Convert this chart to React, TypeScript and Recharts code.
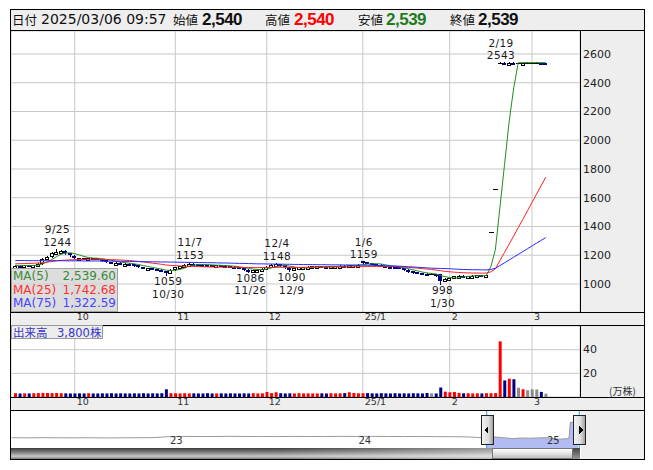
import React from "react";
import {
  Area,
  Bar,
  BarChart,
  CartesianGrid,
  Cell,
  ComposedChart,
  Line,
  ReferenceDot,
  ReferenceLine,
  XAxis,
  YAxis,
} from "recharts";

// daily bars 2024/09/10 - 2025/03/06
const dates = [
  "9/10", "9/11", "9/12", "9/13", "9/17", "9/18", "9/19", "9/20", "9/24", "9/25", "9/26", "9/27", "9/30",
  "10/1", "10/2", "10/3", "10/4", "10/7", "10/8", "10/9", "10/10", "10/11", "10/15", "10/16", "10/17", "10/18",
  "10/21", "10/22", "10/23", "10/24", "10/25", "10/28", "10/29", "10/30", "10/31",
  "11/1", "11/5", "11/6", "11/7", "11/8", "11/11", "11/12", "11/13", "11/14", "11/15", "11/18", "11/19",
  "11/20", "11/21", "11/22", "11/25", "11/26", "11/27", "11/28", "11/29",
  "12/2", "12/3", "12/4", "12/5", "12/6", "12/9", "12/10", "12/11", "12/12", "12/13", "12/16", "12/17",
  "12/18", "12/19", "12/20", "12/23", "12/24", "12/25", "12/26", "12/27", "12/30",
  "1/6", "1/7", "1/8", "1/9", "1/10", "1/14", "1/15", "1/16", "1/17", "1/20", "1/21", "1/22", "1/23",
  "1/24", "1/27", "1/28", "1/29", "1/30", "1/31",
  "2/3", "2/4", "2/5", "2/6", "2/7", "2/10", "2/12", "2/13", "2/14", "2/17", "2/18", "2/19", "2/20",
  "2/21", "2/25", "2/26", "2/27", "2/28",
  "3/3", "3/4", "3/5", "3/6",
];

const opens = [
  1125, 1128, 1126, 1130, 1128, 1132, 1145, 1178, 1195, 1215, 1222, 1232, 1215,
  1198, 1176, 1182, 1175, 1180, 1178, 1176, 1165, 1152, 1145, 1148, 1140, 1142, 1138, 1130, 1115, 1108, 1110, 1102, 1100, 1090, 1078,
  1102, 1115, 1126, 1135, 1142, 1138, 1135, 1133, 1130, 1127, 1130, 1128, 1125, 1120, 1115, 1110, 1100, 1093, 1097, 1100,
  1106, 1120, 1136, 1140, 1130, 1115, 1100, 1110, 1116, 1118, 1120, 1122, 1125, 1120, 1118, 1122, 1125, 1128, 1126, 1130, 1133,
  1158, 1150, 1146, 1140, 1135, 1125, 1120, 1118, 1115, 1110, 1100, 1088, 1080, 1075, 1072, 1070, 1070, 1068, 1022,
  1035, 1042, 1055, 1058, 1052, 1055, 1058, 1060, 1058, 1360, 1660, 2540, 2540, 2539, 2540, 2539, 2539, 2540,
  2540, 2540, 2540, 2540,
];
const highs = [
  1132, 1130, 1133, 1131, 1135, 1145, 1180, 1195, 1225, 1244, 1238, 1236, 1218,
  1200, 1184, 1184, 1182, 1182, 1180, 1177, 1166, 1155, 1150, 1150, 1148, 1143, 1140, 1132, 1118, 1113, 1112, 1106, 1102, 1092, 1102,
  1118, 1128, 1138, 1153, 1144, 1140, 1137, 1135, 1132, 1133, 1132, 1130, 1127, 1122, 1117, 1112, 1102, 1100, 1103, 1108,
  1124, 1138, 1148, 1142, 1132, 1116, 1112, 1117, 1120, 1122, 1124, 1127, 1126, 1122, 1124, 1127, 1130, 1130, 1132, 1134, 1138,
  1159, 1152, 1148, 1142, 1137, 1127, 1122, 1120, 1117, 1112, 1102, 1090, 1082, 1077, 1074, 1073, 1072, 1070, 1040,
  1045, 1058, 1062, 1060, 1057, 1060, 1062, 1062, 1064, 1360, 1660, 2543, 2541, 2541, 2541, 2540, 2541, 2541,
  2541, 2541, 2540, 2540,
];
const lows = [
  1120, 1122, 1124, 1125, 1126, 1130, 1142, 1175, 1190, 1210, 1218, 1212, 1196,
  1183, 1174, 1176, 1173, 1175, 1172, 1163, 1152, 1147, 1143, 1143, 1138, 1135, 1128, 1116, 1110, 1106, 1103, 1098, 1088, 1059, 1076,
  1100, 1112, 1124, 1133, 1135, 1133, 1130, 1128, 1125, 1125, 1126, 1123, 1118, 1113, 1108, 1098, 1086, 1091, 1095, 1098,
  1104, 1118, 1134, 1128, 1113, 1090, 1098, 1108, 1114, 1116, 1118, 1120, 1118, 1116, 1116, 1120, 1123, 1124, 1124, 1128, 1131,
  1145, 1143, 1138, 1132, 1122, 1118, 1115, 1113, 1108, 1098, 1085, 1078, 1073, 1070, 1068, 1067, 1058, 998, 1018,
  1030, 1040, 1052, 1050, 1050, 1053, 1055, 1056, 1056, 1360, 1660, 2538, 2538, 2538, 2538, 2538, 2539, 2539,
  2539, 2539, 2538, 2539,
];
const closes = [
  1128, 1126, 1130, 1128, 1132, 1140, 1175, 1190, 1215, 1225, 1230, 1215, 1200,
  1185, 1180, 1178, 1180, 1178, 1176, 1165, 1155, 1150, 1148, 1145, 1142, 1138, 1130, 1118, 1112, 1110, 1105, 1100, 1090, 1075, 1100,
  1115, 1125, 1135, 1140, 1138, 1135, 1132, 1130, 1128, 1130, 1128, 1125, 1120, 1115, 1110, 1100, 1095, 1098, 1100, 1105,
  1120, 1135, 1140, 1130, 1115, 1100, 1110, 1115, 1118, 1120, 1122, 1125, 1120, 1118, 1122, 1125, 1128, 1126, 1130, 1132, 1135,
  1150, 1145, 1140, 1135, 1125, 1120, 1118, 1115, 1110, 1100, 1088, 1080, 1075, 1072, 1070, 1070, 1060, 1020, 1035,
  1040, 1055, 1058, 1052, 1055, 1058, 1060, 1058, 1062, 1360, 1660, 2540, 2539, 2540, 2539, 2539, 2540, 2540,
  2540, 2540, 2539, 2539,
];
// volume in 万株
const volumes = [
  3.2, 3, 3.1, 3, 3.2, 3.3, 3.5, 3.4, 3.3, 3.4, 3.2, 3.1, 3,
  3, 3.1, 3, 3.2, 3, 3, 3.1, 3, 3.2, 3, 3.1, 3, 3, 3.1, 3, 3.2, 3, 3.1, 3, 3.2, 6.5, 3.2,
  3.1, 3, 3.2, 3, 3.1, 3, 3, 3.2, 3, 3, 3.1, 3, 3.1, 3, 3, 3.1, 3, 3.2, 3, 3.1,
  4.2, 3.3, 4, 3.2, 3, 3.1, 3, 3.2, 3, 3.1, 3, 3, 3.1, 3, 3.2, 3, 3.1, 3.3, 4, 3.4, 3.1,
  3.2, 3.3, 3.1, 3, 3.2, 3.1, 3, 3.2, 3, 3.1, 3, 3.2, 3.1, 3, 3.4, 3.1, 3, 8, 4.5,
  4, 4.2, 3.5, 3.1, 3.2, 3, 3.1, 3, 3.2, 3.2, 3.3, 47, 14, 15.5, 15, 7.8, 6.5, 5.7,
  6.5, 6.3, 4.3, 2.8,
];
const ma5 = [
  1128, 1127, 1128, 1128, 1128.8, 1131.2, 1141, 1153, 1170.4, 1189, 1207, 1215, 1217,
  1211, 1202, 1191.6, 1184.6, 1180.2, 1178.4, 1175.4, 1170.8, 1164.8, 1158.8, 1152.6, 1148, 1144.6, 1140.6, 1134.6, 1128, 1121.6, 1115, 1109, 1103.4, 1096, 1094,
  1096, 1101, 1110, 1123, 1130.6, 1134.6, 1136, 1135, 1132.6, 1131, 1129.6, 1128.2, 1126.2, 1123.6, 1119.6, 1114, 1108, 1103.6, 1100.6, 1099.6,
  1103.6, 1111.6, 1120, 1126, 1128, 1124, 1119, 1114, 1111.6, 1112.6, 1117, 1120, 1121, 1121, 1121.4, 1122, 1122.6, 1123.8, 1126.2, 1128.2, 1130.2,
  1134.6, 1138.4, 1140.4, 1141, 1139, 1133, 1127.6, 1122.6, 1117.6, 1112.6, 1106.2, 1098.6, 1090.6, 1083, 1077, 1073.4, 1069.4, 1058.4, 1051,
  1045, 1042, 1041.6, 1048, 1052, 1055.6, 1056.6, 1056.6, 1058.6, 1119.6, 1240, 1536, 1832.2, 2127.8, 2363.6, 2539.4, 2539.4, 2539.6,
  2539.6, 2539.8, 2539.8, 2539.6,
];
const ma25 = [
  1140, 1141, 1142, 1143, 1144, 1146, 1149, 1152, 1156, 1160, 1164, 1166, 1168,
  1169, 1170, 1171, 1172, 1172, 1172, 1171, 1170, 1169, 1168, 1167, 1165, 1163, 1160, 1157, 1153, 1149, 1145, 1141, 1137, 1132, 1129,
  1127, 1125, 1124, 1123, 1122, 1121, 1120, 1119, 1118, 1117, 1117, 1116, 1116, 1116, 1115, 1115, 1115, 1114, 1114, 1114,
  1115, 1115, 1116, 1116, 1116, 1115, 1115, 1115, 1116, 1116, 1116, 1117, 1117, 1117, 1117, 1118, 1118, 1118, 1119, 1119, 1120,
  1121, 1122, 1122, 1122, 1122, 1122, 1121, 1121, 1120, 1118, 1116, 1113, 1110, 1107, 1104, 1101, 1097, 1092, 1088,
  1085, 1082, 1080, 1078, 1077, 1076, 1076, 1075.5, 1075.6, 1084.6, 1106, 1162.8, 1219.7, 1276.7, 1333.8, 1391.4, 1449.5, 1507.9,
  1566.5, 1625.2, 1684, 1742.68,
];
const ma75 = [
  1163, 1163, 1163, 1162, 1162, 1162, 1162, 1162, 1162, 1162, 1162, 1161, 1161,
  1161, 1161, 1160, 1160, 1160, 1160, 1159, 1159, 1159, 1158, 1158, 1157, 1157, 1156, 1156, 1155, 1155, 1154, 1154, 1153, 1153, 1152,
  1152, 1151, 1151, 1150, 1150, 1149, 1149, 1148, 1148, 1147, 1146, 1146, 1145, 1144, 1143, 1143, 1142, 1141, 1140, 1140,
  1139, 1139, 1138, 1138, 1137, 1137, 1136, 1136, 1135, 1135, 1135, 1134, 1134, 1134, 1133, 1133, 1133, 1132, 1132, 1132, 1131,
  1131, 1130, 1130, 1129, 1128, 1127, 1126, 1125, 1124, 1122, 1120, 1118, 1116, 1114, 1112, 1110, 1109, 1108, 1107,
  1106, 1104, 1102, 1101, 1100, 1099, 1099, 1098, 1098, 1101, 1109, 1128, 1147, 1167, 1186, 1206, 1225, 1245,
  1264, 1284, 1303, 1322.59,
];

const SLOTS = 124;
const monthTicks = [13, 35, 55, 76, 95, 113];
const monthLabels = ["10", "11", "12", "25/1", "2", "3"];
const priceTicks = [1000, 1200, 1400, 1600, 1800, 2000, 2200, 2400, 2600];
const volTicks = [20, 40];
const highMarks = ["9/25", "11/7", "12/4", "1/6", "2/19"];
const lowMarks = ["10/30", "11/26", "12/9", "1/30"];
const todayVolume = 3800;

// navigator (long history)
const navT = [
  2022.17, 2022.25, 2022.33, 2022.42, 2022.5, 2022.58, 2022.67, 2022.75, 2022.83, 2022.92,
  2023.0, 2023.08, 2023.17, 2023.25, 2023.33, 2023.42, 2023.5, 2023.58, 2023.67, 2023.75, 2023.83, 2023.92,
  2024.0, 2024.08, 2024.17, 2024.25, 2024.33, 2024.42, 2024.5, 2024.58, 2024.64,
  2024.691, 2024.73, 2024.78, 2024.83, 2024.88, 2024.92, 2024.96, 2025.0, 2025.05, 2025.08, 2025.1,
  2025.126, 2025.129, 2025.131, 2025.134, 2025.175,
];
const navV = [
  1150, 1142, 1155, 1148, 1140, 1152, 1130, 1145, 1150, 1160,
  1245, 1270, 1258, 1265, 1275, 1262, 1268, 1255, 1270, 1262, 1266, 1272,
  1268, 1275, 1262, 1258, 1266, 1250, 1245, 1230, 1180,
  1128, 1225, 1150, 1075, 1130, 1105, 1130, 1150, 1080, 1020, 1055,
  1062, 1360, 1660, 2540, 2539,
];
const navYears = [2023, 2024, 2025];
const navYearLabels = ["23", "24", "25"];
const navStart = 2022.167;
const navEnd = 2025.186;
const viewStart = 2024.691;
const viewEnd = 2025.182;

const NUM = "'DejaVu Sans', 'Noto Sans CJK JP', sans-serif";
const JP = "'Noto Sans CJK JP', sans-serif";
const NAVY = "#000080";
const RED = "#ff0000";
const GRAY = "#8c8c8c";

const rows = Array.from({ length: SLOTS }, (_, i) =>
  i < closes.length
    ? {
        i,
        open: opens[i],
        high: highs[i],
        low: lows[i],
        close: closes[i],
        vol: volumes[i],
        ma5: ma5[i],
        ma25: ma25[i],
        ma75: ma75[i],
      }
    : { i }
);

const volColor = (i: number) => {
  const prev = i > 0 ? closes[i - 1] : opens[0];
  return closes[i] > prev ? RED : closes[i] < prev ? NAVY : GRAY;
};

const navRows = navT.map((t, k) => ({
  t,
  v: navV[k],
  sel: t >= viewStart ? navV[k] : null,
}));

const at = (x: number, y: number, w: number, h: number): React.CSSProperties => ({
  position: "absolute",
  left: x - 8,
  top: y - 8,
  width: w,
  height: h,
});

function Candle(props: any) {
  const { x, y, width, height, payload } = props;
  if (!payload || payload.close == null) return null;
  const { open, close, high, low } = payload;
  const top = Math.min(y, y + height);
  const h = Math.abs(height);
  const k = high > low ? h / (high - low) : 0;
  const py = (v: number) => top + (high - v) * k;
  const cx = Math.round(x + width / 2);
  const left = cx - 2;
  const wick = (
    <line
      x1={cx + 0.5}
      x2={cx + 0.5}
      y1={Math.round(py(high))}
      y2={Math.round(py(low)) + 1}
      stroke={close < open ? NAVY : "#000"}
    />
  );
  if (close > open) {
    const y1 = Math.round(py(close));
    const y2 = Math.round(py(open));
    return (
      <g shapeRendering="crispEdges">
        {wick}
        <rect x={left + 0.5} y={y1 + 0.5} width={3} height={Math.max(y2 - y1, 2)} fill="#fff" stroke="#000" />
      </g>
    );
  }
  if (close < open) {
    const y1 = Math.round(py(open));
    const y2 = Math.round(py(close));
    return (
      <g shapeRendering="crispEdges">
        {wick}
        <rect x={left} y={y1} width={4} height={Math.max(y2 - y1, 2)} fill={NAVY} />
      </g>
    );
  }
  const yc = Math.round(py(close)) + 0.5;
  return (
    <g shapeRendering="crispEdges">
      {wick}
      <line x1={left - 0.5} x2={left + 4.5} y1={yc} y2={yc} stroke="#000" />
    </g>
  );
}

const markShape = (date: string, value: number, kind: "high" | "low") => (p: any) => {
  const { cx, cy } = p;
  const style = { fontSize: 10.5, fontFamily: NUM, fill: "#1a1a1a", letterSpacing: 0.4 };
  if (kind === "high") {
    return (
      <g>
        <text x={cx + 1} y={cy - 15.5} textAnchor="middle" {...style}>{date}</text>
        <text x={cx + 1} y={cy - 3} textAnchor="middle" {...style}>{value}</text>
      </g>
    );
  }
  return (
    <g>
      <text x={cx + 2} y={cy + 10} textAnchor="middle" {...style}>{value}</text>
      <text x={cx + 2} y={cy + 22.5} textAnchor="middle" {...style}>{date}</text>
    </g>
  );
};

const MonthTick = (p: any) => {
  const k = monthTicks.indexOf(p.payload.value);
  return (
    <text x={p.x + 2} y={p.y + 8} fontSize={9.5} fontFamily={NUM} fill="#333" textAnchor="start">
      {monthLabels[k]}
    </text>
  );
};

const PriceTick = (p: any) => (
  <text x={p.x} y={p.y} dy={4} fontSize={11} fontFamily={NUM} fill="#222" textAnchor="start">
    {p.payload.value}
  </text>
);

const VolTick = (p: any) => (
  <text x={p.x} y={p.y} dy={3.5} fontSize={11} fontFamily={NUM} fill="#222" textAnchor="start">
    {p.payload.value}
  </text>
);

function YearLabel(props: any) {
  const { viewBox, text } = props;
  if (!viewBox) return null;
  return (
    <text x={viewBox.x + 2} y={viewBox.y + 33} fontSize={10} fontFamily={NUM} fill="#333">
      {text}
    </text>
  );
}

function Handle(props: any) {
  const { viewBox, side } = props;
  if (!viewBox) return null;
  const left = Math.round(viewBox.x) - 6;
  const top = viewBox.y + 4;
  const id = "hg-" + side;
  const mid = top + 15;
  const tri =
    side === "left"
      ? `M${left + 3},${mid} L${left + 7},${mid - 4} L${left + 7},${mid + 4} Z`
      : `M${left + 10},${mid} L${left + 6},${mid - 4} L${left + 6},${mid + 4} Z`;
  return (
    <g shapeRendering="crispEdges">
      <defs>
        <linearGradient id={id} x1="0" x2="1" y1="0" y2="0">
          <stop offset="0" stopColor="#f4f4f4" />
          <stop offset="0.6" stopColor="#dcdcdc" />
          <stop offset="1" stopColor="#9a9a9a" />
        </linearGradient>
      </defs>
      <rect x={left + 0.5} y={top + 0.5} width={12} height={29} fill={`url(#${id})`} stroke="#222" />
      <path d={tri} fill="#000" />
    </g>
  );
}

const fmt2 = (v: number) =>
  v.toLocaleString("en-US", { minimumFractionDigits: 2, maximumFractionDigits: 2 });
const fmt0 = (v: number) => v.toLocaleString("en-US");

const line = (x: number, y: number, w: number, h: number, color = "#000") => (
  <div style={{ ...at(x, y, w, h), background: color }} />
);

export default function App() {
  const last = closes.length - 1;
  const idxOf = (d: string) => dates.indexOf(d);
  const bold: React.CSSProperties = {
    fontFamily: "'Liberation Sans', Arial, sans-serif",
    fontWeight: 700,
    fontSize: 17,
    letterSpacing: -0.5,
  };
  const jp: React.CSSProperties = { fontFamily: JP, fontSize: 12.5, color: "#111" };
  const hdr = (x: number, style: React.CSSProperties, text: string, color = "#111") => (
    <span style={{ position: "absolute", left: x - 10, top: 0, lineHeight: "21px", color, ...style }}>{text}</span>
  );

  return (
    <div style={{ position: "relative", width: 645, height: 462, fontFamily: NUM, background: "#fff" }}>
      {/* gray panels */}
      <div style={{ ...at(581, 31, 63, 281), background: "#eeeeee" }} />
      <div style={{ ...at(11, 313, 633, 12), background: "#eeeeee" }} />
      <div style={{ ...at(581, 326, 63, 71), background: "#eeeeee" }} />
      <div style={{ ...at(11, 398, 633, 12), background: "#eeeeee" }} />
      <div style={{ ...at(581, 411, 63, 48), background: "#eeeeee" }} />

      {/* header */}
      <div style={{ ...at(10, 9, 634, 21), background: "#eeeeee" }}>
        {hdr(12, jp, "日付")}
        {hdr(41, { fontFamily: NUM, fontSize: 14 }, "2025/03/06 09:57")}
        {hdr(173, jp, "始値")}
        {hdr(202, bold, fmt0(opens[last]))}
        {hdr(265, jp, "高値")}
        {hdr(294, bold, fmt0(highs[last]), "#ff0000")}
        {hdr(358, jp, "安値")}
        {hdr(386, bold, fmt0(lows[last]), "#1e7b1e")}
        {hdr(450, jp, "終値")}
        {hdr(478, bold, fmt0(closes[last]))}
      </div>

      {/* price chart */}
      <div style={at(10, 30, 634, 295)}>
        <ComposedChart width={634} height={295} data={rows} margin={{ top: 1, right: 0, bottom: 0, left: 1 }}>
          <CartesianGrid stroke="#c8c8c8" />
          <XAxis
            dataKey="i"
            type="category"
            ticks={monthTicks}
            interval={0}
            height={13}
            axisLine={false}
            tickLine={false}
            tickSize={0}
            tickMargin={0}
            padding={{ left: 2, right: 0 }}
            tick={<MonthTick />}
          />
          <YAxis
            orientation="right"
            width={64}
            domain={[805, 2760]}
            ticks={priceTicks}
            interval={0}
            axisLine={false}
            tickLine={false}
            tickSize={0}
            tickMargin={3}
            allowDataOverflow
            tick={<PriceTick />}
          />
          <Bar
            dataKey={(d: any) => (d.close == null ? null : [d.low, d.high])}
            shape={<Candle />}
            barSize={4}
            isAnimationActive={false}
          />
          <Line dataKey="ma5" type="linear" stroke="#228b22" strokeWidth={1} dot={false} activeDot={false} isAnimationActive={false} />
          <Line dataKey="ma25" type="linear" stroke="#ff2020" strokeWidth={1} dot={false} activeDot={false} isAnimationActive={false} />
          <Line dataKey="ma75" type="linear" stroke="#2a2aff" strokeWidth={1} dot={false} activeDot={false} isAnimationActive={false} />
          {highMarks.map((d) => (
            <ReferenceDot key={d} x={idxOf(d)} y={highs[idxOf(d)]} r={0} shape={markShape(d, highs[idxOf(d)], "high")} />
          ))}
          {lowMarks.map((d) => (
            <ReferenceDot key={d} x={idxOf(d)} y={lows[idxOf(d)]} r={0} shape={markShape(d, lows[idxOf(d)], "low")} />
          ))}
        </ComposedChart>
      </div>

      {/* volume chart */}
      <div style={at(10, 325, 634, 85)}>
        <BarChart width={634} height={85} data={rows} margin={{ top: 1, right: 0, bottom: 0, left: 1 }}>
          <CartesianGrid stroke="#c8c8c8" />
          <XAxis
            dataKey="i"
            type="category"
            ticks={monthTicks}
            interval={0}
            height={13}
            axisLine={false}
            tickLine={false}
            tickSize={0}
            tickMargin={0}
            padding={{ left: 2, right: 0 }}
            tick={<MonthTick />}
          />
          <YAxis
            orientation="right"
            width={64}
            domain={[0, 60]}
            ticks={volTicks}
            interval={0}
            axisLine={false}
            tickLine={false}
            tickSize={0}
            tickMargin={3}
            tick={<VolTick />}
          />
          <Bar dataKey="vol" barSize={3} isAnimationActive={false}>
            {rows.map((r: any) => (
              <Cell key={r.i} fill={r.close == null ? "none" : volColor(r.i)} />
            ))}
          </Bar>
        </BarChart>
      </div>
      <div style={{ ...at(609, 385, 36, 12), fontFamily: JP, fontSize: 10, color: "#333", lineHeight: "12px" }}>(万株)</div>

      {/* navigator */}
      <div style={at(10, 411, 634, 37)}>
        <ComposedChart width={634} height={37} data={navRows} margin={{ top: 0, right: 64, bottom: 0, left: 1 }}>
          <XAxis dataKey="t" type="number" domain={[navStart, navEnd]} hide allowDataOverflow />
          <YAxis domain={[226, 3560]} hide allowDataOverflow />
          <Area dataKey="sel" type="linear" stroke="none" fill="#b3bbf3" fillOpacity={1} isAnimationActive={false} />
          <Line dataKey="v" type="linear" stroke="#9a9a9a" strokeWidth={1} dot={false} activeDot={false} isAnimationActive={false} />
          {navYears.map((yr, k) => (
            <ReferenceLine key={yr} x={yr} stroke="none" label={<YearLabel text={navYearLabels[k]} />} />
          ))}
          <ReferenceLine x={viewStart} stroke="#28a4d4" label={<Handle side="left" />} />
          <ReferenceLine x={viewEnd} stroke="#28a4d4" label={<Handle side="right" />} />
        </ComposedChart>
      </div>

      {/* scrollbar */}
      <div
        style={{
          ...at(11, 448, 481, 11),
          background:
            "linear-gradient(to right, rgba(255,255,255,0) 55%, rgba(255,255,255,0.45) 100%), linear-gradient(to bottom, #3c3c3c, #8a8a8a 45%, #c8c8c8 75%, #7a7a7a)",
        }}
      />
      <div
        style={{
          ...at(492, 448, 81, 11),
          boxSizing: "border-box",
          border: "1px solid #777",
          background: "linear-gradient(to bottom, #ffffff, #e2e2e2 50%, #bdbdbd)",
        }}
      />
      <div style={{ ...at(573, 448, 7, 11), background: "linear-gradient(to bottom, #444, #999)" }} />

      {/* frame lines */}
      {line(10, 9, 635, 1)}
      {line(10, 30, 635, 1)}
      {line(580, 30, 1, 282)}
      {line(10, 312, 635, 1)}
      {line(10, 325, 635, 1)}
      {line(580, 325, 1, 72)}
      {line(10, 397, 635, 1)}
      {line(10, 410, 635, 1)}
      {line(10, 459, 635, 1)}
      {line(10, 9, 1, 451)}
      {line(644, 9, 1, 451)}

      {/* MA legend */}
      <div
        style={{
          ...at(11, 268, 107, 44),
          boxSizing: "border-box",
          border: "1px solid #a0a0a0",
          background: "rgba(212,212,212,0.78)",
          paddingTop: 1,
          fontSize: 12,
          fontFamily: NUM,
        }}
      >
        {[
          { name: "MA(5)", v: ma5[last], c: "#3a8a3a" },
          { name: "MA(25)", v: ma25[last], c: "#ff3030" },
          { name: "MA(75)", v: ma75[last], c: "#4646ff" },
        ].map((r) => (
          <div
            key={r.name}
            style={{ display: "flex", justifyContent: "space-between", height: 13.5, lineHeight: "13.5px", padding: "0 1px 0 1px", color: r.c }}
          >
            <span>{r.name}</span>
            <span>{fmt2(r.v)}</span>
          </div>
        ))}
      </div>

      {/* volume label */}
      <div
        style={{
          ...at(11, 325, 92, 14),
          boxSizing: "border-box",
          border: "1px solid #999",
          background: "rgba(236,236,236,0.95)",
          color: "#3636c8",
          fontSize: 11.5,
          lineHeight: "12px",
          fontFamily: NUM,
        }}
      >
        <span style={{ position: "absolute", left: 1, top: 0, fontFamily: JP }}>出来高</span>
        <span style={{ position: "absolute", left: 45, top: 0 }}>
          {fmt0(todayVolume)}
          <span style={{ fontFamily: JP }}>株</span>
        </span>
      </div>
    </div>
  );
}
